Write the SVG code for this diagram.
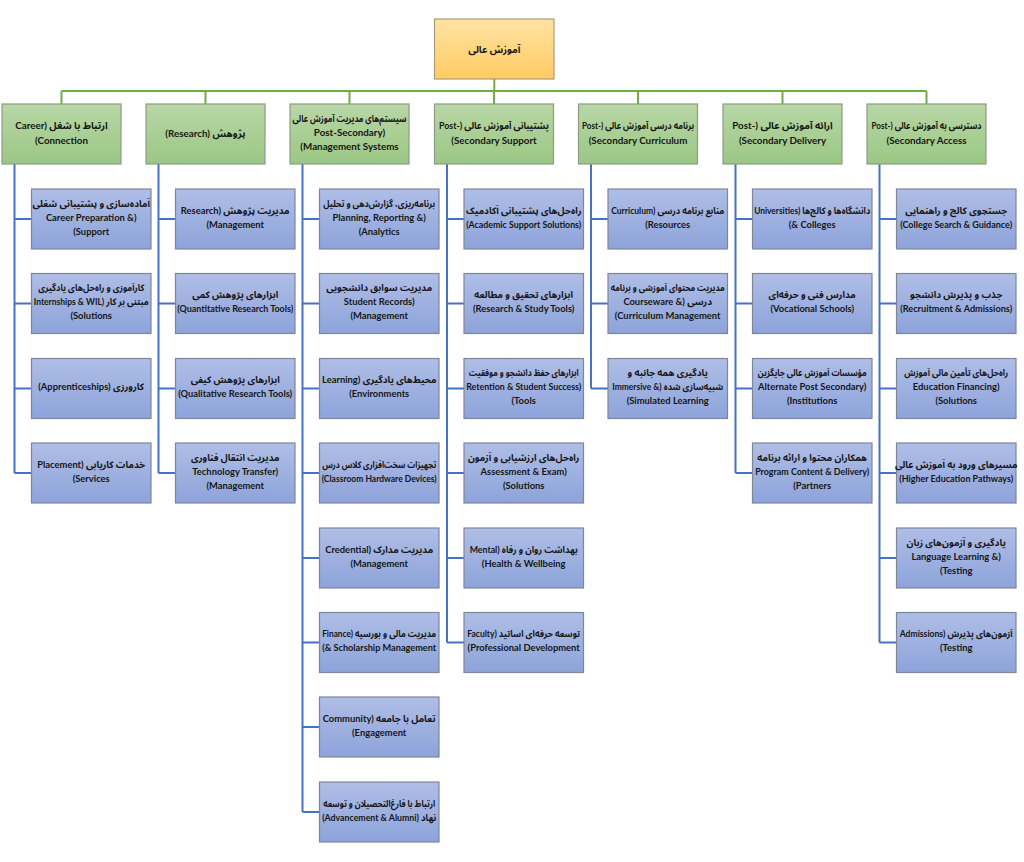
<svg xmlns="http://www.w3.org/2000/svg" width="1024" height="862" viewBox="0 0 1024 862">
<defs>
<linearGradient id="gRoot" x1="0" y1="0" x2="0" y2="1"><stop offset="0" stop-color="#FFE3A3"/><stop offset="1" stop-color="#FFCB63"/></linearGradient>
<linearGradient id="gHead" x1="0" y1="0" x2="0" y2="1"><stop offset="0" stop-color="#B8D7A6"/><stop offset="1" stop-color="#9BC784"/></linearGradient>
<linearGradient id="gChild" x1="0" y1="0" x2="0" y2="1"><stop offset="0" stop-color="#AFBEE6"/><stop offset="1" stop-color="#8DA3DA"/></linearGradient>
</defs>
<style>
.root{fill:url(#gRoot);stroke:#A99C7A;stroke-width:1.2}
.head{fill:url(#gHead);stroke:#8E9A88;stroke-width:1.2}
.child{fill:url(#gChild);stroke:#7E8699;stroke-width:1.2}
.t{font-family:"Lato","Noto Sans Arabic","DejaVu Sans",sans-serif;font-weight:bold;font-size:9.4px;fill:#161616;text-anchor:middle}
.th{font-size:9.8px}
.g{stroke:#70AD47;stroke-width:2;fill:none}
.b{stroke:#4472C4;stroke-width:2;fill:none}
</style>
<rect width="1024" height="862" fill="#ffffff"/>
<g id="connectors">
<path class="g" d="M494.3 79V91M61.5 91H926.5M61.5 91V104M205.5 91V104M349.5 91V104M494 91V104M638 91V104M782.5 91V104M926.5 91V104"/>
<path class="b" d="M14.5 164V473M14.5 219H31.5M14.5 303.5H31.5M14.5 388.5H31.5M14.5 473H31.5"/>
<path class="b" d="M158.5 164V473M158.5 219H175.5M158.5 303.5H175.5M158.5 388.5H175.5M158.5 473H175.5"/>
<path class="b" d="M302.5 164V812M302.5 219H319.5M302.5 303.5H319.5M302.5 388.5H319.5M302.5 473H319.5M302.5 558H319.5M302.5 642.5H319.5M302.5 727H319.5M302.5 812H319.5"/>
<path class="b" d="M447 164V642.5M447 219H464M447 303.5H464M447 388.5H464M447 473H464M447 558H464M447 642.5H464"/>
<path class="b" d="M591 164V388.5M591 219H608M591 303.5H608M591 388.5H608"/>
<path class="b" d="M735.5 164V473M735.5 219H752.5M735.5 303.5H752.5M735.5 388.5H752.5M735.5 473H752.5"/>
<path class="b" d="M879.5 164V642.5M879.5 219H896.5M879.5 303.5H896.5M879.5 388.5H896.5M879.5 473H896.5M879.5 558H896.5M879.5 642.5H896.5"/>
</g>
<g id="root"><rect class="root" x="434.5" y="19" width="119.5" height="60"/><text class="t th" x="494.3" y="52.5">آموزش عالی</text></g>
<g id="h1"><rect class="head" x="2" y="104" width="119" height="60"/><text class="t th" x="61.5" y="129">Career) ارتباط با شغل</text><text class="t th" x="61.5" y="144">(Connection</text></g>
<g id="h2"><rect class="head" x="146" y="104" width="119" height="60"/><text class="t th" x="205.5" y="136.5">(Research) پژوهش</text></g>
<g id="h3"><rect class="head" x="290" y="104" width="119" height="60"/><text class="t th" x="349.5" y="122" textLength="114" lengthAdjust="spacingAndGlyphs">سیستم‌های مدیریت آموزش عالی</text><text class="t th" x="349.5" y="136">Post-Secondary)</text><text class="t th" x="349.5" y="150">(Management Systems</text></g>
<g id="h4"><rect class="head" x="434.5" y="104" width="119" height="60"/><text class="t th" x="494" y="129" textLength="110" lengthAdjust="spacingAndGlyphs">Post-) پشتیبانی آموزش عالی</text><text class="t th" x="494" y="144">(Secondary Support</text></g>
<g id="h5"><rect class="head" x="578.5" y="104" width="119" height="60"/><text class="t th" x="638" y="129" textLength="112" lengthAdjust="spacingAndGlyphs">Post-) برنامه درسی آموزش عالی</text><text class="t th" x="638" y="144">(Secondary Curriculum</text></g>
<g id="h6"><rect class="head" x="723" y="104" width="119" height="60"/><text class="t th" x="782.5" y="129">Post-) ارائه آموزش عالی</text><text class="t th" x="782.5" y="144">(Secondary Delivery</text></g>
<g id="h7"><rect class="head" x="867" y="104" width="119" height="60"/><text class="t th" x="926.5" y="129" textLength="110" lengthAdjust="spacingAndGlyphs">Post-) دسترسی به آموزش عالی</text><text class="t th" x="926.5" y="144">(Secondary Access</text></g>

<g id="c1-1"><rect class="child" x="31.5" y="189" width="119.5" height="60"/><text class="t" x="91.2" y="206.5">آماده‌سازی و پشتیبانی شغلی</text><text class="t" x="91.2" y="220.5">Career Preparation &amp;)</text><text class="t" x="91.2" y="234.5">(Support</text></g>
<g id="c1-2"><rect class="child" x="31.5" y="273.5" width="119.5" height="60"/><text class="t" x="91.2" y="291" textLength="106" lengthAdjust="spacingAndGlyphs">کارآموزی و راه‌حل‌های یادگیری</text><text class="t" x="91.2" y="305" textLength="115" lengthAdjust="spacingAndGlyphs">Internships &amp; WIL) مبتنی بر کار</text><text class="t" x="91.2" y="319">(Solutions</text></g>
<g id="c1-3"><rect class="child" x="31.5" y="358.5" width="119.5" height="60"/><text class="t" x="91.2" y="390">(Apprenticeships) کارورزی</text></g>
<g id="c1-4"><rect class="child" x="31.5" y="443" width="119.5" height="60"/><text class="t" x="91.2" y="467.5">Placement) خدمات کاریابی</text><text class="t" x="91.2" y="481.5">(Services</text></g>

<g id="c2-1"><rect class="child" x="175.5" y="189" width="119.5" height="60"/><text class="t" x="235.2" y="213.5">Research) مدیریت پژوهش</text><text class="t" x="235.2" y="227.5">(Management</text></g>
<g id="c2-2"><rect class="child" x="175.5" y="273.5" width="119.5" height="60"/><text class="t" x="235.2" y="298">ابزارهای پژوهش کمی</text><text class="t" x="235.2" y="312" textLength="116" lengthAdjust="spacingAndGlyphs">(Quantitative Research Tools)</text></g>
<g id="c2-3"><rect class="child" x="175.5" y="358.5" width="119.5" height="60"/><text class="t" x="235.2" y="383">ابزارهای پژوهش کیفی</text><text class="t" x="235.2" y="397" textLength="114" lengthAdjust="spacingAndGlyphs">(Qualitative Research Tools)</text></g>
<g id="c2-4"><rect class="child" x="175.5" y="443" width="119.5" height="60"/><text class="t" x="235.2" y="460.5">مدیریت انتقال فناوری</text><text class="t" x="235.2" y="474.5">Technology Transfer)</text><text class="t" x="235.2" y="488.5">(Management</text></g>

<g id="c3-1"><rect class="child" x="319.5" y="189" width="119.5" height="60"/><text class="t" x="379.2" y="206.5" textLength="112" lengthAdjust="spacingAndGlyphs">برنامه‌ریزی، گزارش‌دهی و تحلیل</text><text class="t" x="379.2" y="220.5">Planning, Reporting &amp;)</text><text class="t" x="379.2" y="234.5">(Analytics</text></g>
<g id="c3-2"><rect class="child" x="319.5" y="273.5" width="119.5" height="60"/><text class="t" x="379.2" y="291">مدیریت سوابق دانشجویی</text><text class="t" x="379.2" y="305">Student Records)</text><text class="t" x="379.2" y="319">(Management</text></g>
<g id="c3-3"><rect class="child" x="319.5" y="358.5" width="119.5" height="60"/><text class="t" x="379.2" y="383">Learning) محیط‌های یادگیری</text><text class="t" x="379.2" y="397">(Environments</text></g>
<g id="c3-4"><rect class="child" x="319.5" y="443" width="119.5" height="60"/><text class="t" x="379.2" y="467.5" textLength="114" lengthAdjust="spacingAndGlyphs">تجهیزات سخت‌افزاری کلاس درس</text><text class="t" x="379.2" y="481.5" textLength="115" lengthAdjust="spacingAndGlyphs">(Classroom Hardware Devices)</text></g>
<g id="c3-5"><rect class="child" x="319.5" y="528" width="119.5" height="60"/><text class="t" x="379.2" y="552.5">Credential) مدیریت مدارک</text><text class="t" x="379.2" y="566.5">(Management</text></g>
<g id="c3-6"><rect class="child" x="319.5" y="612.5" width="119.5" height="60"/><text class="t" x="379.2" y="637" textLength="114" lengthAdjust="spacingAndGlyphs">Finance) مدیریت مالی و بورسیه</text><text class="t" x="379.2" y="651" textLength="114" lengthAdjust="spacingAndGlyphs">(&amp; Scholarship Management</text></g>
<g id="c3-7"><rect class="child" x="319.5" y="697" width="119.5" height="60"/><text class="t" x="379.2" y="721.5">Community) تعامل با جامعه</text><text class="t" x="379.2" y="735.5">(Engagement</text></g>
<g id="c3-8"><rect class="child" x="319.5" y="782" width="119.5" height="60"/><text class="t" x="379.2" y="806.5" textLength="112" lengthAdjust="spacingAndGlyphs">ارتباط با فارغ‌التحصیلان و توسعه</text><text class="t" x="379.2" y="820.5" textLength="114" lengthAdjust="spacingAndGlyphs">(Advancement &amp; Alumni) نهاد</text></g>

<g id="c4-1"><rect class="child" x="464" y="189" width="119.5" height="60"/><text class="t" x="523.7" y="213.5">راه‌حل‌های پشتیبانی آکادمیک</text><text class="t" x="523.7" y="227.5" textLength="115" lengthAdjust="spacingAndGlyphs">(Academic Support Solutions)</text></g>
<g id="c4-2"><rect class="child" x="464" y="273.5" width="119.5" height="60"/><text class="t" x="523.7" y="298">ابزارهای تحقیق و مطالعه</text><text class="t" x="523.7" y="312">(Research &amp; Study Tools)</text></g>
<g id="c4-3"><rect class="child" x="464" y="358.5" width="119.5" height="60"/><text class="t" x="523.7" y="376" textLength="110" lengthAdjust="spacingAndGlyphs">ابزارهای حفظ دانشجو و موفقیت</text><text class="t" x="523.7" y="390" textLength="115" lengthAdjust="spacingAndGlyphs">Retention &amp; Student Success)</text><text class="t" x="523.7" y="404">(Tools</text></g>
<g id="c4-4"><rect class="child" x="464" y="443" width="119.5" height="60"/><text class="t" x="523.7" y="460.5">راه‌حل‌های ارزشیابی و آزمون</text><text class="t" x="523.7" y="474.5">Assessment &amp; Exam)</text><text class="t" x="523.7" y="488.5">(Solutions</text></g>
<g id="c4-5"><rect class="child" x="464" y="528" width="119.5" height="60"/><text class="t" x="523.7" y="552.5" textLength="108" lengthAdjust="spacingAndGlyphs">Mental) بهداشت روان و رفاه</text><text class="t" x="523.7" y="566.5">(Health &amp; Wellbeing</text></g>
<g id="c4-6"><rect class="child" x="464" y="612.5" width="119.5" height="60"/><text class="t" x="523.7" y="637" textLength="113" lengthAdjust="spacingAndGlyphs">Faculty) توسعه حرفه‌ای اساتید</text><text class="t" x="523.7" y="651">(Professional Development</text></g>

<g id="c5-1"><rect class="child" x="608" y="189" width="119.5" height="60"/><text class="t" x="667.7" y="213.5" textLength="113" lengthAdjust="spacingAndGlyphs">Curriculum) منابع برنامه درسی</text><text class="t" x="667.7" y="227.5">(Resources</text></g>
<g id="c5-2"><rect class="child" x="608" y="273.5" width="119.5" height="60"/><text class="t" x="667.7" y="291" textLength="114" lengthAdjust="spacingAndGlyphs">مدیریت محتوای آموزشی و برنامه</text><text class="t" x="667.7" y="305">Courseware &amp;) درسی</text><text class="t" x="667.7" y="319">(Curriculum Management</text></g>
<g id="c5-3"><rect class="child" x="608" y="358.5" width="119.5" height="60"/><text class="t" x="667.7" y="376">یادگیری همه جانبه و</text><text class="t" x="667.7" y="390" textLength="111" lengthAdjust="spacingAndGlyphs">Immersive &amp;) شبیه‌سازی شده</text><text class="t" x="667.7" y="404">(Simulated Learning</text></g>

<g id="c6-1"><rect class="child" x="752.5" y="189" width="119.5" height="60"/><text class="t" x="812.2" y="213.5" textLength="116" lengthAdjust="spacingAndGlyphs">Universities) دانشگاه‌ها و کالج‌ها</text><text class="t" x="812.2" y="227.5">(&amp; Colleges</text></g>
<g id="c6-2"><rect class="child" x="752.5" y="273.5" width="119.5" height="60"/><text class="t" x="812.2" y="298">مدارس فنی و حرفه‌ای</text><text class="t" x="812.2" y="312">(Vocational Schools)</text></g>
<g id="c6-3"><rect class="child" x="752.5" y="358.5" width="119.5" height="60"/><text class="t" x="812.2" y="376" textLength="109" lengthAdjust="spacingAndGlyphs">مؤسسات آموزش عالی جایگزین</text><text class="t" x="812.2" y="390">Alternate Post Secondary)</text><text class="t" x="812.2" y="404">(Institutions</text></g>
<g id="c6-4"><rect class="child" x="752.5" y="443" width="119.5" height="60"/><text class="t" x="812.2" y="460.5">همکاران محتوا و ارائه برنامه</text><text class="t" x="812.2" y="474.5" textLength="114" lengthAdjust="spacingAndGlyphs">Program Content &amp; Delivery)</text><text class="t" x="812.2" y="488.5">(Partners</text></g>

<g id="c7-1"><rect class="child" x="896.5" y="189" width="119.5" height="60"/><text class="t" x="956.2" y="213.5">جستجوی کالج و راهنمایی</text><text class="t" x="956.2" y="227.5" textLength="112" lengthAdjust="spacingAndGlyphs">(College Search &amp; Guidance)</text></g>
<g id="c7-2"><rect class="child" x="896.5" y="273.5" width="119.5" height="60"/><text class="t" x="956.2" y="298">جذب و پذیرش دانشجو</text><text class="t" x="956.2" y="312" textLength="112" lengthAdjust="spacingAndGlyphs">(Recruitment &amp; Admissions)</text></g>
<g id="c7-3"><rect class="child" x="896.5" y="358.5" width="119.5" height="60"/><text class="t" x="956.2" y="376" textLength="104" lengthAdjust="spacingAndGlyphs">راه‌حل‌های تأمین مالی آموزش</text><text class="t" x="956.2" y="390">Education Financing)</text><text class="t" x="956.2" y="404">(Solutions</text></g>
<g id="c7-4"><rect class="child" x="896.5" y="443" width="119.5" height="60"/><text class="t" x="956.2" y="467.5">مسیرهای ورود به آموزش عالی</text><text class="t" x="956.2" y="481.5" textLength="114" lengthAdjust="spacingAndGlyphs">(Higher Education Pathways)</text></g>
<g id="c7-5"><rect class="child" x="896.5" y="528" width="119.5" height="60"/><text class="t" x="956.2" y="545.5">یادگیری و آزمون‌های زبان</text><text class="t" x="956.2" y="559.5">Language Learning &amp;)</text><text class="t" x="956.2" y="573.5">(Testing</text></g>
<g id="c7-6"><rect class="child" x="896.5" y="612.5" width="119.5" height="60"/><text class="t" x="956.2" y="637" textLength="113" lengthAdjust="spacingAndGlyphs">Admissions) آزمون‌های پذیرش</text><text class="t" x="956.2" y="651">(Testing</text></g>
</svg>
